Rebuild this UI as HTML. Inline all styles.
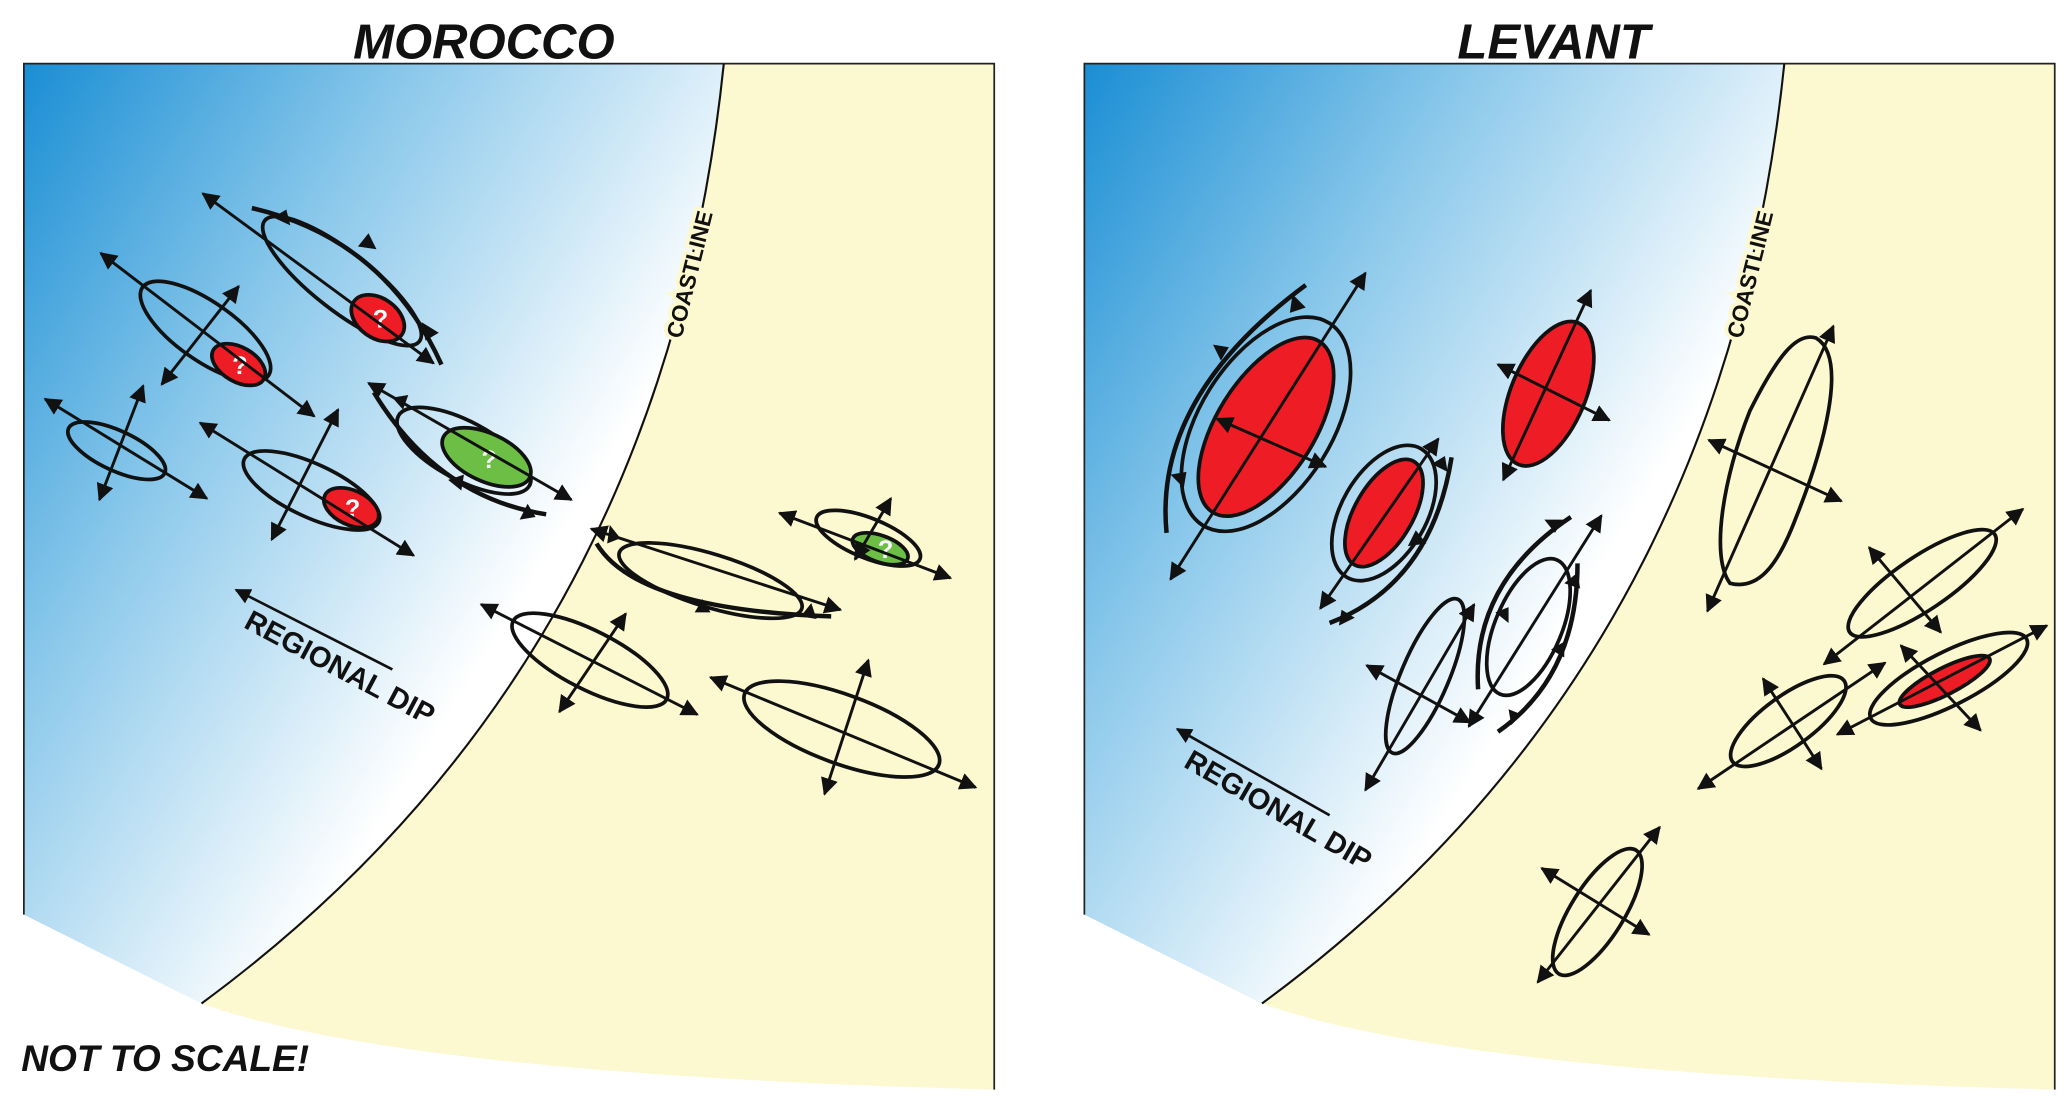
<!DOCTYPE html>
<html><head><meta charset="utf-8"><style>html,body{margin:0;padding:0;background:#fff}svg{display:block}</style></head>
<body>
<svg width="2068" height="1109" viewBox="0 0 1560 836.6" preserveAspectRatio="none" xmlns="http://www.w3.org/2000/svg" font-family="Liberation Sans, sans-serif">
<defs>
<linearGradient id="bl" gradientUnits="userSpaceOnUse" x1="18" y1="48" x2="470" y2="330">
<stop offset="0" stop-color="#1a8ed4"/><stop offset="0.45" stop-color="#86c6ea"/><stop offset="1" stop-color="#ffffff"/></linearGradient>
<linearGradient id="bl2" gradientUnits="userSpaceOnUse" x1="818" y1="48" x2="1270" y2="330">
<stop offset="0" stop-color="#1a8ed4"/><stop offset="0.45" stop-color="#86c6ea"/><stop offset="1" stop-color="#ffffff"/></linearGradient>
<marker id="ah" viewBox="0 0 10 10" refX="9" refY="5" markerWidth="6" markerHeight="6" orient="auto-start-reverse"><path d="M0,0 L10,5 L0,10 Z" fill="#111"/></marker>
</defs>
<style>
.e{fill:none;stroke:#111;stroke-width:2.8}
.r{fill:#ee1c24;stroke:#111;stroke-width:2.8}
.g{fill:#6cbf44;stroke:#111;stroke-width:2.8}
.a{stroke:#111;stroke-width:2.2;fill:none;marker-start:url(#ah);marker-end:url(#ah)}
.t{fill:none;stroke:#111;stroke-width:3.4}
.q{fill:#fff;font-weight:bold;font-size:19px;text-anchor:middle}
</style>
<!-- LEFT PANEL -->
<path d="M18,48 L750,48 L750,822 Q300,810 152,757 L18,690 Z" fill="#fcf8d0"/>
<path d="M18,48 L546,48 C520,300 420,560 152,757 L18,690 Z" fill="url(#bl)"/>
<path d="M18,690 L18,48 L750,48 L750,822" fill="none" stroke="#222" stroke-width="1.3"/>
<path d="M546,48 C520,300 420,560 152,757" fill="none" stroke="#111" stroke-width="1.6"/>
<text transform="translate(514,256) rotate(-76)" font-size="17" font-weight="bold" fill="#111" stroke="#fcf8d0" stroke-width="6" paint-order="stroke">COASTLINE</text>
<text x="365" y="44" text-anchor="middle" font-size="37" font-weight="bold" font-style="italic" fill="#111">MOROCCO</text>
<text x="16" y="808" font-size="28" font-weight="bold" font-style="italic" fill="#111">NOT TO SCALE!</text>

<g>
<ellipse class="e" cx="155" cy="250" rx="58" ry="22" transform="rotate(35 155 250)"/>
<ellipse class="r" cx="180" cy="275" rx="22" ry="13" transform="rotate(30 180 275)"/>
<text class="q" x="181" y="282">?</text>
<line class="a" x1="76" y1="191" x2="237" y2="314"/>
<line class="a" x1="180" y1="216" x2="122" y2="290"/>

<ellipse class="e" cx="258" cy="212" rx="74" ry="22" transform="rotate(38 258 212)"/>
<ellipse class="r" cx="285" cy="240" rx="22" ry="15" transform="rotate(35 285 240)"/>
<text class="q" x="287" y="247">?</text>
<line class="a" x1="153" y1="146" x2="327" y2="274"/>
<path class="t" d="M190,157 Q290,180 333,275"/>
<path d="M206,164 l10,-6 l3,12z M270,186 l8,-10 l6,12z M318,243 l3,14 l10,-6z" fill="#111"/>

<ellipse class="e" cx="88" cy="340" rx="40" ry="15" transform="rotate(25 88 340)"/>
<line class="a" x1="34" y1="301" x2="156" y2="376"/>
<line class="a" x1="108" y1="291" x2="75" y2="377"/>

<ellipse class="e" cx="235" cy="370" rx="56" ry="20" transform="rotate(25 235 370)"/>
<ellipse class="r" cx="265" cy="383" rx="22" ry="13" transform="rotate(25 265 383)"/>
<text class="q" x="266" y="390">?</text>
<line class="a" x1="151" y1="319" x2="312" y2="419"/>
<line class="a" x1="255" y1="309" x2="205" y2="407"/>

<ellipse class="e" cx="350" cy="340" rx="56" ry="22" transform="rotate(28 350 340)"/>
<ellipse class="g" cx="367" cy="345" rx="36" ry="18" transform="rotate(25 367 345)"/>
<text class="q" x="369" y="353">?</text>
<line class="a" x1="278" y1="289" x2="431" y2="377"/>
<path class="t" d="M282,296 Q330,375 412,388"/>
<path d="M296,300 l12,-2 l-4,11z M338,362 l12,-4 l-2,12z M398,380 l6,10 l-12,2z" fill="#111"/>

<line x1="178" y1="445" x2="296" y2="505" stroke="#111" stroke-width="2" marker-start="url(#ah)"/>
<text transform="translate(183,473) rotate(28)" font-size="22" font-weight="bold" fill="#111">REGIONAL DIP</text>

<ellipse class="e" cx="536" cy="438" rx="72" ry="20" transform="rotate(17 536 438)"/>
<line class="a" x1="446" y1="399" x2="634" y2="460"/>
<path class="t" d="M450,410 Q480,460 627,465"/>
<path d="M460,396 l-2,14 l10,-4z M524,462 l6,-10 l6,10z M604,465 l8,-10 l4,12z" fill="#111"/>

<ellipse class="e" cx="655" cy="406" rx="42" ry="15" transform="rotate(22 655 406)"/>
<ellipse class="g" cx="664" cy="414" rx="22" ry="10" transform="rotate(20 664 414)"/>
<text class="q" x="668" y="421" font-size="15">?</text>
<line class="a" x1="588" y1="387" x2="717" y2="436"/>
<line class="a" x1="672" y1="376" x2="645" y2="422"/>

<ellipse class="e" cx="445" cy="498" rx="65" ry="22" transform="rotate(27 445 498)"/>
<line class="a" x1="363" y1="456" x2="526" y2="539"/>
<line class="a" x1="472" y1="463" x2="422" y2="537"/>

<ellipse class="e" cx="635" cy="550" rx="78" ry="26" transform="rotate(20 635 550)"/>
<line class="a" x1="536" y1="511" x2="736" y2="594"/>
<line class="a" x1="655" y1="498" x2="622" y2="599"/>
</g>

<!-- RIGHT PANEL -->
<path d="M818,48 L1550,48 L1550,822 Q1100,810 952,757 L818,690 Z" fill="#fcf8d0"/>
<path d="M818,48 L1346,48 C1320,300 1220,560 952,757 L818,690 Z" fill="url(#bl2)"/>
<path d="M818,690 L818,48 L1550,48 L1550,822" fill="none" stroke="#222" stroke-width="1.3"/>
<path d="M1346,48 C1320,300 1220,560 952,757" fill="none" stroke="#111" stroke-width="1.6"/>
<text transform="translate(1314,256) rotate(-76)" font-size="17" font-weight="bold" fill="#111" stroke="#fcf8d0" stroke-width="6" paint-order="stroke">COASTLINE</text>
<text x="1172" y="44" text-anchor="middle" font-size="37" font-weight="bold" font-style="italic" fill="#111">LEVANT</text>

<g>
<ellipse class="e" cx="955" cy="320" rx="90" ry="50" transform="rotate(-58 955 320)"/>
<ellipse class="r" cx="955" cy="322" rx="76" ry="37" transform="rotate(-58 955 322)"/>
<line class="a" x1="1030" y1="206" x2="883" y2="437"/>
<line class="a" x1="918" y1="316" x2="1000" y2="352"/>
<path class="t" d="M880,402 Q870,300 985,215"/>
<path d="M975,222 l10,10 l-12,4z M915,260 l12,2 l-6,10z M883,358 l12,-2 l-2,12z" fill="#111"/>

<ellipse class="e" cx="1044" cy="387" rx="56" ry="32" transform="rotate(-60 1044 387)"/>
<ellipse class="r" cx="1044" cy="387" rx="45" ry="22" transform="rotate(-60 1044 387)"/>
<line class="a" x1="1085" y1="331" x2="996" y2="459"/>
<path class="t" d="M1003,470 Q1080,440 1095,345"/>
<path d="M1012,460 l10,6 l-12,6z M1062,412 l6,-12 l8,10z M1080,350 l10,-6 l2,12z" fill="#111"/>

<ellipse class="r" cx="1168" cy="297" rx="58" ry="28" transform="rotate(-67 1168 297)"/>
<line class="a" x1="1200" y1="219" x2="1134" y2="362"/>
<line class="a" x1="1130" y1="275" x2="1214" y2="317"/>

<ellipse class="e" cx="1075" cy="510" rx="63" ry="18" transform="rotate(-67 1075 510)"/>
<line class="a" x1="1112" y1="456" x2="1030" y2="596"/>
<line class="a" x1="1031" y1="502" x2="1109" y2="545"/>

<ellipse class="e" cx="1153" cy="473" rx="55" ry="25" transform="rotate(-67 1153 473)"/>
<line class="a" x1="1208" y1="389" x2="1108" y2="548"/>
<path class="t" d="M1115,520 Q1110,440 1185,390"/>
<path class="t" d="M1130,552 Q1190,510 1190,425"/>
<path d="M1165,392 l14,0 l-6,10z M1128,462 l10,-4 l0,12z M1180,440 l10,-8 l2,12z M1170,490 l10,-6 l0,12z M1138,535 l10,4 l-8,8z" fill="#111"/>

<line x1="888" y1="550" x2="1003" y2="615" stroke="#111" stroke-width="2" marker-start="url(#ah)"/>
<text transform="translate(892,578) rotate(30)" font-size="22" font-weight="bold" fill="#111">REGIONAL DIP</text>

<path class="e" d="M1370,255 C1395,270 1375,340 1355,390 C1340,430 1325,445 1305,440 C1290,420 1300,360 1320,310 C1340,270 1355,250 1370,255 Z"/>
<line class="a" x1="1383" y1="246" x2="1288" y2="461"/>
<line class="a" x1="1289" y1="332" x2="1389" y2="378"/>

<ellipse class="e" cx="1450" cy="440" rx="66" ry="20" transform="rotate(-34 1450 440)"/>
<line class="a" x1="1526" y1="384" x2="1376" y2="501"/>
<line class="a" x1="1410" y1="413" x2="1464" y2="477"/>

<ellipse class="e" cx="1470" cy="512" rx="66" ry="20" transform="rotate(-27 1470 512)"/>
<ellipse class="r" cx="1467" cy="514" rx="38" ry="10" transform="rotate(-27 1467 514)"/>
<line class="a" x1="1544" y1="472" x2="1386" y2="554"/>
<line class="a" x1="1434" y1="487" x2="1494" y2="551"/>

<ellipse class="e" cx="1349" cy="544" rx="52" ry="19" transform="rotate(-36 1349 544)"/>
<line class="a" x1="1422" y1="500" x2="1281" y2="595"/>
<line class="a" x1="1330" y1="512" x2="1374" y2="580"/>

<ellipse class="e" cx="1205" cy="688" rx="55" ry="20" transform="rotate(-58 1205 688)"/>
<line class="a" x1="1252" y1="624" x2="1160" y2="741"/>
<line class="a" x1="1163" y1="655" x2="1244" y2="705"/>
</g>
</svg>
</body></html>
